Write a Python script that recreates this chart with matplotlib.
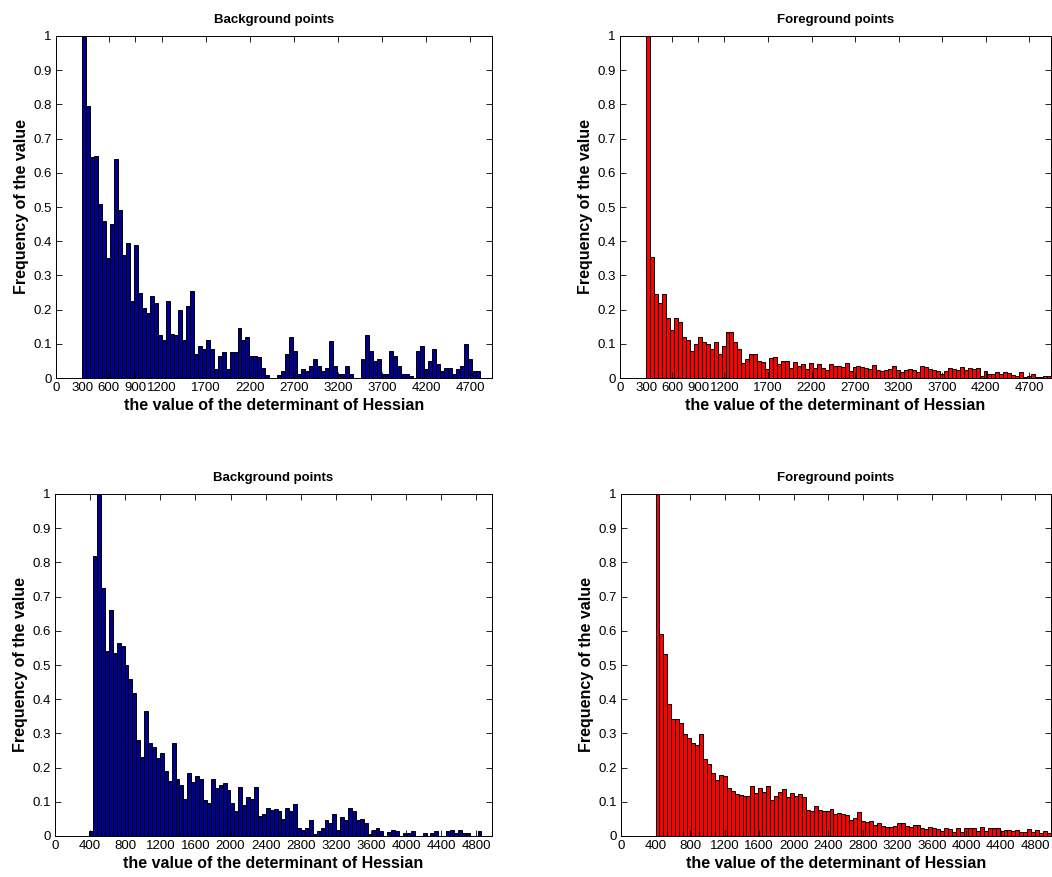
import numpy as np
import matplotlib
matplotlib.use("Agg")
import matplotlib.pyplot as plt

plt.rcParams['font.family'] = ['Liberation Sans', 'DejaVu Sans']

# ---- data (normalised histogram heights, 100-ish bins each) ----
bg_top = [1.0, 0.795, 0.645, 0.65, 0.51, 0.46, 0.35, 0.45, 0.64, 0.49,
          0.36, 0.395, 0.225, 0.39, 0.25, 0.205, 0.19, 0.24, 0.22, 0.125,
          0.11, 0.225, 0.13, 0.125, 0.2, 0.11, 0.21, 0.255, 0.07, 0.095,
          0.085, 0.11, 0.085, 0.025, 0.065, 0.075, 0.025, 0.075, 0.075, 0.145,
          0.11, 0.12, 0.065, 0.065, 0.06, 0.03, 0.01, 0.0, 0.0, 0.01,
          0.02, 0.07, 0.12, 0.08, 0.012, 0.025, 0.02, 0.035, 0.057, 0.035,
          0.02, 0.03, 0.107, 0.035, 0.012, 0.012, 0.035, 0.012, 0.0, 0.0,
          0.057, 0.125, 0.08, 0.05, 0.057, 0.012, 0.012, 0.08, 0.063, 0.035,
          0.012, 0.012, 0.006, 0.0, 0.08, 0.095, 0.025, 0.05, 0.085, 0.042,
          0.02, 0.03, 0.03, 0.012, 0.025, 0.035, 0.1, 0.057, 0.02, 0.02]

fg_top = [1.0, 0.355, 0.245, 0.22, 0.245, 0.175, 0.14, 0.175, 0.165, 0.12,
          0.11, 0.08, 0.1, 0.12, 0.105, 0.1, 0.085, 0.105, 0.07, 0.095,
          0.135, 0.135, 0.105, 0.085, 0.045, 0.055, 0.07, 0.07, 0.05, 0.048,
          0.025, 0.058, 0.06, 0.042, 0.05, 0.05, 0.03, 0.048, 0.035, 0.04,
          0.025, 0.045, 0.03, 0.042, 0.03, 0.022, 0.042, 0.035, 0.036, 0.031,
          0.043, 0.021, 0.033, 0.036, 0.031, 0.03, 0.027, 0.038, 0.023, 0.021,
          0.023, 0.026, 0.035, 0.024, 0.019, 0.023, 0.026, 0.022, 0.018, 0.035,
          0.031, 0.025, 0.024, 0.021, 0.013, 0.021, 0.028, 0.026, 0.023, 0.032,
          0.024, 0.028, 0.027, 0.028, 0.007, 0.021, 0.013, 0.013, 0.018, 0.013,
          0.018, 0.015, 0.009, 0.006, 0.018, 0.004, 0.007, 0.012, 0.002, 0.002,
          0.005, 0.005]

bg_bot = [0.015, 0.82, 1.0, 0.725, 0.54, 0.66, 0.535, 0.565, 0.557, 0.5,
          0.46, 0.418, 0.28, 0.232, 0.365, 0.273, 0.26, 0.227, 0.242, 0.19,
          0.162, 0.273, 0.168, 0.15, 0.108, 0.183, 0.157, 0.174, 0.168, 0.104,
          0.097, 0.168, 0.14, 0.15, 0.155, 0.135, 0.097, 0.072, 0.142, 0.09,
          0.115, 0.108, 0.142, 0.058, 0.065, 0.083, 0.075, 0.079, 0.072, 0.05,
          0.083, 0.072, 0.093, 0.024, 0.019, 0.024, 0.046, 0.007, 0.014, 0.024,
          0.046, 0.038, 0.065, 0.019, 0.057, 0.046, 0.083, 0.072, 0.046, 0.051,
          0.039, 0.007, 0.019, 0.024, 0.014, 0.0, 0.012, 0.019, 0.014, 0.0,
          0.009, 0.009, 0.014, 0.0, 0.0, 0.009, 0.0, 0.009, 0.014, 0.0,
          0.0, 0.014, 0.019, 0.009, 0.019, 0.009, 0.009, 0.0, 0.0, 0.014]

fg_bot = [1.0, 0.59, 0.533, 0.385, 0.343, 0.343, 0.33, 0.297, 0.288, 0.273,
          0.265, 0.297, 0.225, 0.21, 0.183, 0.165, 0.178, 0.175, 0.14, 0.132,
          0.123, 0.12, 0.117, 0.117, 0.147, 0.125, 0.14, 0.128, 0.146, 0.105,
          0.117, 0.128, 0.138, 0.115, 0.126, 0.117, 0.123, 0.115, 0.075, 0.072,
          0.088, 0.077, 0.072, 0.072, 0.08, 0.065, 0.067, 0.063, 0.06, 0.047,
          0.053, 0.07, 0.045, 0.042, 0.043, 0.032, 0.038, 0.028, 0.026, 0.026,
          0.03, 0.038, 0.038, 0.028, 0.026, 0.032, 0.032, 0.022, 0.02, 0.025,
          0.022, 0.02, 0.016, 0.022, 0.02, 0.011, 0.022, 0.013, 0.022, 0.023,
          0.023, 0.016, 0.025, 0.016, 0.023, 0.023, 0.024, 0.014, 0.017, 0.017,
          0.014, 0.017, 0.013, 0.013, 0.02, 0.012, 0.017, 0.008, 0.015, 0.008]

# value range covered by the bins of each panel
ranges = {'bg_top': (300, 4815), 'fg_top': (300, 4950),
          'bg_bot': (390, 4860), 'fg_bot': (400, 4980)}

xticks_top = [0, 300, 600, 900, 1200, 1700, 2200, 2700, 3200, 3700, 4200, 4700]
xticks_bot = [0, 400, 800, 1200, 1600, 2000, 2400, 2800, 3200, 3600, 4000, 4400, 4800]
yticks = [0, 0.1, 0.2, 0.3, 0.4, 0.5, 0.6, 0.7, 0.8, 0.9, 1]
ytick_labels = ['0', '0.1', '0.2', '0.3', '0.4', '0.5', '0.6', '0.7', '0.8', '0.9', '1']

W, H = 1052, 877
fig = plt.figure(figsize=(W / 100, H / 100), dpi=100)
tick_font = ['Liberation Sans Narrow', 'Liberation Sans', 'DejaVu Sans']


def make_ax(left, top, right, bottom):
    return fig.add_axes([left / W, 1 - bottom / H, (right - left) / W, (bottom - top) / H])


def draw(ax, heights, rng, color, title, xticks, xmax):
    n = len(heights)
    edges = np.linspace(rng[0], rng[1], n + 1)
    w = edges[1] - edges[0]
    ax.bar(edges[:-1], heights, width=w, align='edge', color=color,
           edgecolor='black', linewidth=0.7)
    ax.set_xlim(0, xmax)
    ax.set_ylim(0, 1)
    ax.set_xticks(xticks)
    ax.set_xticklabels([str(t) for t in xticks], family=tick_font, fontsize=9.5)
    ax.set_yticks(yticks)
    ax.set_yticklabels(ytick_labels, family=tick_font, fontsize=9.5)
    ax.tick_params(direction='in', top=True, right=True, length=4, width=0.6, pad=3)
    for s in ax.spines.values():
        s.set_linewidth(0.7)
    ax.set_title(title, fontsize=9.5, fontweight='bold', pad=9)
    ax.set_xlabel('the value of the determinant of Hessian', fontsize=11.5,
                  fontweight='bold', labelpad=3)
    ax.set_ylabel('Frequency of the value', fontsize=11.5, fontweight='bold', labelpad=3)


ax1 = make_ax(56, 36, 492, 378)
ax2 = make_ax(620, 36, 1051, 378)
ax3 = make_ax(55, 494, 492, 836)
ax4 = make_ax(621, 494, 1051, 836)

draw(ax1, bg_top, ranges['bg_top'], '#00008f', 'Background points', xticks_top, 4950)
draw(ax2, fg_top, ranges['fg_top'], '#ff0000', 'Foreground points', xticks_top, 4950)
draw(ax3, bg_bot, ranges['bg_bot'], '#00008f', 'Background points', xticks_bot, 4980)
draw(ax4, fg_bot, ranges['fg_bot'], '#ff0000', 'Foreground points', xticks_bot, 4980)

fig.savefig('out.png', dpi=100)
